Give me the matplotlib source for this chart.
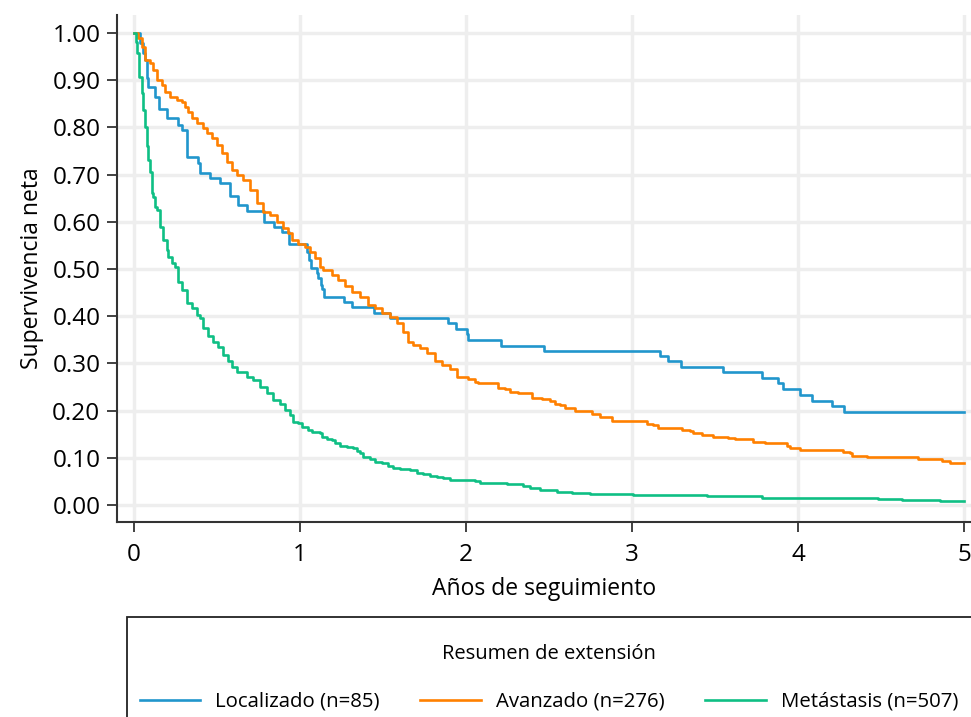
import matplotlib
matplotlib.use("Agg")
import matplotlib.pyplot as plt
from matplotlib.patches import Rectangle

plt.rcParams['font.family'] = ['Open Sans', 'DejaVu Sans']

# Localizado (n=85)
loc_t = [0, 0.036, 0.052, 0.066, 0.076, 0.086, 0.127, 0.153, 0.197, 0.267, 0.287,
         0.317, 0.321, 0.387, 0.398, 0.457, 0.518, 0.578, 0.628, 0.679, 0.783, 0.843,
         0.893, 0.936, 1.040, 1.054, 1.066, 1.100, 1.110, 1.125, 1.131, 1.145, 1.265,
         1.311, 1.448, 1.542, 1.893, 1.940, 2.008, 2.012, 2.209, 2.470, 3.169, 3.219,
         3.293, 3.550, 3.781, 3.881, 3.911, 4.012, 4.086, 4.207, 4.277, 5.0]
loc_s = [1.0, 0.978, 0.957, 0.943, 0.904, 0.886, 0.865, 0.840, 0.819, 0.805, 0.794,
         0.784, 0.738, 0.724, 0.703, 0.692, 0.682, 0.655, 0.636, 0.623, 0.599, 0.588,
         0.578, 0.554, 0.537, 0.519, 0.503, 0.492, 0.480, 0.467, 0.457, 0.441, 0.431,
         0.419, 0.407, 0.396, 0.385, 0.373, 0.362, 0.350, 0.3375, 0.326, 0.316, 0.306,
         0.293, 0.281, 0.268, 0.258, 0.245, 0.232, 0.221, 0.209, 0.197, 0.197]

# Avanzado (n=276)
ava_t = [0, 0.026, 0.046, 0.066, 0.096, 0.116, 0.137, 0.167, 0.187, 0.217, 0.257,
         0.287, 0.307, 0.327, 0.347, 0.378, 0.418, 0.438, 0.468, 0.498, 0.528, 0.558,
         0.588, 0.619, 0.659, 0.699, 0.739, 0.779, 0.819, 0.860, 0.900, 0.930, 0.950,
         0.990, 1.030, 1.060, 1.090, 1.120, 1.141, 1.191, 1.231, 1.271, 1.311, 1.361,
         1.412, 1.452, 1.492, 1.542, 1.582, 1.622, 1.652, 1.683, 1.723, 1.763, 1.813,
         1.854, 1.904, 1.944, 2.014, 2.054, 2.074, 2.195, 2.235, 2.265, 2.315, 2.396,
         2.456, 2.506, 2.536, 2.566, 2.596, 2.657, 2.757, 2.807, 2.878, 3.088, 3.128,
         3.159, 3.299, 3.349, 3.369, 3.420, 3.490, 3.580, 3.620, 3.731, 3.801, 3.911,
         3.932, 3.952, 4.012, 4.273, 4.313, 4.323, 4.414, 4.725, 4.866, 4.916, 5.0]
ava_s = [1.0, 0.989, 0.971, 0.943, 0.936, 0.922, 0.900, 0.890, 0.876, 0.865, 0.858,
         0.854, 0.844, 0.833, 0.819, 0.809, 0.798, 0.788, 0.777, 0.763, 0.745, 0.727,
         0.710, 0.699, 0.689, 0.667, 0.639, 0.621, 0.614, 0.600, 0.586, 0.576, 0.561,
         0.554, 0.547, 0.537, 0.523, 0.505, 0.498, 0.487, 0.477, 0.463, 0.452, 0.441,
         0.424, 0.417, 0.406, 0.399, 0.385, 0.367, 0.346, 0.339, 0.332, 0.321, 0.304,
         0.297, 0.288, 0.272, 0.267, 0.261, 0.259, 0.247, 0.245, 0.240, 0.237, 0.226,
         0.225, 0.221, 0.215, 0.212, 0.205, 0.200, 0.192, 0.186, 0.178, 0.172, 0.170,
         0.164, 0.159, 0.157, 0.152, 0.148, 0.145, 0.141, 0.139, 0.134, 0.132, 0.131,
         0.125, 0.120, 0.1165, 0.113, 0.1095, 0.104, 0.101, 0.098, 0.094, 0.0897, 0.0897]

# Metástasis (n=507)
met_t = [0, 0.010, 0.020, 0.032, 0.046, 0.056, 0.066, 0.076, 0.086, 0.096, 0.107,
         0.116, 0.127, 0.137, 0.157, 0.177, 0.197, 0.207, 0.227, 0.247, 0.267, 0.287,
         0.317, 0.348, 0.378, 0.398, 0.418, 0.448, 0.478, 0.508, 0.538, 0.568, 0.588,
         0.619, 0.679, 0.719, 0.759, 0.799, 0.839, 0.880, 0.910, 0.940, 0.960, 0.990,
         1.010, 1.050, 1.070, 1.120, 1.131, 1.161, 1.191, 1.211, 1.241, 1.281, 1.321,
         1.341, 1.361, 1.381, 1.422, 1.452, 1.492, 1.532, 1.562, 1.602, 1.663, 1.703,
         1.743, 1.783, 1.823, 1.863, 1.904, 2.054, 2.084, 2.245, 2.345, 2.386, 2.446,
         2.546, 2.637, 2.747, 3.008, 3.450, 3.781, 4.484, 4.625, 4.855, 5.0]
met_s = [1.0, 0.98, 0.957, 0.907, 0.872, 0.837, 0.801, 0.760, 0.731, 0.705, 0.66,
         0.653, 0.632, 0.625, 0.590, 0.561, 0.540, 0.526, 0.512, 0.505, 0.473, 0.455,
         0.427, 0.417, 0.403, 0.396, 0.374, 0.357, 0.346, 0.335, 0.318, 0.306, 0.293,
         0.282, 0.272, 0.265, 0.249, 0.238, 0.222, 0.215, 0.201, 0.190, 0.176, 0.173,
         0.166, 0.159, 0.155, 0.152, 0.143, 0.139, 0.138, 0.131, 0.126, 0.122, 0.120,
         0.115, 0.1095, 0.102, 0.097, 0.092, 0.088, 0.083, 0.079, 0.0756, 0.074, 0.068,
         0.066, 0.062, 0.060, 0.058, 0.053, 0.051, 0.046, 0.045, 0.040, 0.037, 0.032,
         0.028, 0.026, 0.023, 0.021, 0.020, 0.0155, 0.0127, 0.0106, 0.0085, 0.0085]

series = [
    (loc_t, loc_s, "Localizado (n=85)", "#2196cc"),
    (ava_t, ava_s, "Avanzado (n=276)", "#ff8000"),
    (met_t, met_s, "Metástasis (n=507)", "#0fbf84"),
]

x_ticks = [0, 1, 2, 3, 4, 5]
y_ticks = [i / 10 for i in range(11)]

fig = plt.figure(figsize=(9.71, 7.17), dpi=100)
ax = fig.add_axes([0.1205, 0.272, 0.8795, 0.707])

for t, s, lab, col in series:
    ax.step(t, s, where="post", color=col, lw=1.9, label=lab)

ax.set_xlim(-0.102, 5.042)
ax.set_ylim(-0.036, 1.038)
ax.set_xticks(x_ticks)
ax.set_yticks(y_ticks)
ax.set_yticklabels([f"{v:.2f}" for v in y_ticks])
ax.grid(True, color="#eeeeee", lw=2.5)
ax.set_axisbelow(True)
for side in ["top", "right"]:
    ax.spines[side].set_visible(False)
for side in ["left", "bottom"]:
    ax.spines[side].set_color("#333333")
    ax.spines[side].set_linewidth(1.5)
ax.tick_params(length=7, width=1.3, color="#333333", labelsize=17.5, pad=5)
ax.tick_params(axis="x", pad=8)
ax.set_xlabel("Años de seguimiento", fontsize=16.5, labelpad=7)
ax.set_ylabel("Supervivencia neta", fontsize=16.5, labelpad=6)

# legend box runs off the bottom-right edge of the figure
fig.patches.append(Rectangle((127 / 971, -0.05), 1.0, 0.05 + 1 - 617 / 717,
                             transform=fig.transFigure, fill=False,
                             edgecolor="#222222", lw=1.3))
handles, labels = ax.get_legend_handles_labels()
leg = fig.legend(handles, labels, loc="center", ncol=3,
                 bbox_to_anchor=(549 / 971, 1 - 678 / 717),
                 frameon=False, fontsize=14.7, title="Resumen de extensión",
                 title_fontsize=14.5, handlelength=2.95, handletextpad=0.75,
                 columnspacing=2.0, borderpad=0.2)
leg._legend_box.sep = 20

fig.savefig("out.png", dpi=100)
